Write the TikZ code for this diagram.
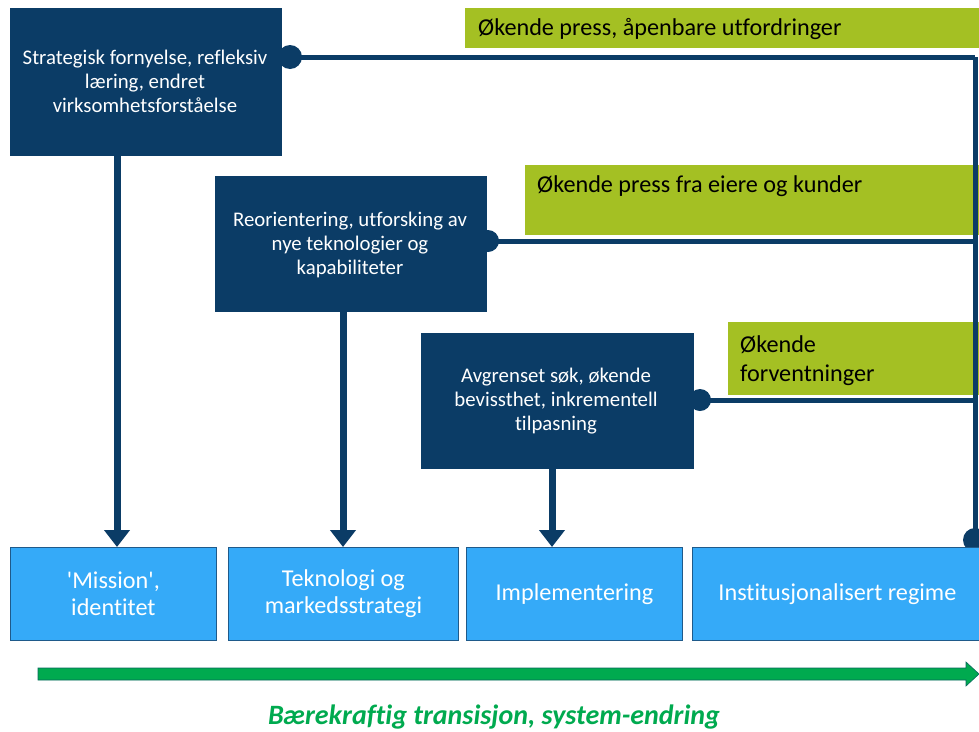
\documentclass[tikz,border=0pt]{standalone}
\usepackage{fontspec}
\setmainfont{Carlito}[Ligatures={TeX,NoCommon}]
\usetikzlibrary{arrows.meta,calc}
\definecolor{navy}{HTML}{0B3C66}
\definecolor{lime}{HTML}{A4C023}
\definecolor{sky}{HTML}{35AAF8}
\definecolor{skyedge}{HTML}{1F5A8A}
\definecolor{tgreen}{HTML}{00AA4F}
\tikzset{
  darkbox/.style={fill=navy, draw=navy, anchor=north west, inner sep=0pt},
  darktext/.style={text=white, align=center, font=\fontsize{20.8}{24}\selectfont, inner sep=0pt},
  limebox/.style={fill=lime, draw=none, anchor=north west, inner sep=0pt},
  limetext/.style={anchor=west, font=\fontsize{24.2}{29}\selectfont, align=left, inner sep=0pt},
  lightbox/.style={fill=sky, draw=skyedge, line width=0.8pt, anchor=north west, text=white, align=center, font=\fontsize{24.2}{27}\selectfont, inner sep=0pt},
  navyline/.style={draw=navy, line width=5pt},
  knob/.style={fill=navy, draw=none},
  downarrow/.style={draw=navy, line width=7pt, -{Triangle[width=25pt,length=17pt]}},
}
\begin{document}
\begin{tikzpicture}[x=1pt,y=-1pt]
\useasboundingbox (0,0) rectangle (979,731);
% lime labels
\node[limebox, minimum width=514pt, minimum height=40pt] (g1) at (465,8) {};
\node[limetext] (g1t) at (478,29) {Økende press, åpenbare utfordringer};
\node[limebox, minimum width=454pt, minimum height=70pt] (g2) at (525,165) {};
\node[limetext] (g2t) at (537,186) {Økende press fra eiere og kunder};
\node[limebox, minimum width=251pt, minimum height=73pt] (g3) at (728,322) {};
\node[limetext] (g3t) at (740,361) {Økende\\forventninger};
% coordinates for feedback lines
\coordinate (k1) at (290,57);
\coordinate (k2) at (488,241);
\coordinate (k3) at (700,400);
\coordinate (c1) at (975,57);
\coordinate (c4) at (975,540);
% feedback lines
\draw[navyline] (k1) -- (c1 |- k1);
\draw[navyline] (k2) -- (c1 |- k2);
\draw[navyline] (k3) -- (c1 |- k3);
\draw[navyline] (c1) -- (c4);
\fill[knob] (k1) circle (12pt);
\fill[knob] (k2) circle (11pt);
\fill[knob] (k3) circle (11pt);
\fill[knob] (c4) circle (12pt);
% dark boxes
\node[darkbox, minimum width=271pt, minimum height=147pt] (b1) at (10,8) {};
\node[darktext] (b1t) at (145,81) {Strategisk fornyelse, refleksiv\\læring, endret\\virksomhetsforståelse};
\node[darkbox, minimum width=271pt, minimum height=135pt] (b2) at (215,176) {};
\node[darktext] (b2t) at (350,245) {Reorientering, utforsking av\\nye teknologier og\\kapabiliteter};
\node[darkbox, minimum width=272pt, minimum height=135pt] (b3) at (421,333) {};
\node[darktext] (b3t) at (556,401) {Avgrenset søk, økende\\bevissthet, inkrementell\\tilpasning};
% bottom boxes
\node[lightbox, minimum width=206pt, minimum height=93pt] (m1) at (10,547) {\textquotesingle Mission\textquotesingle,\\identitet};
\node[lightbox, minimum width=230pt, minimum height=93pt] (m2) at (228,547) {Teknologi og\\markedsstrategi};
\node[lightbox, minimum width=216pt, minimum height=93pt] (m3) at (466,547) {Implementering};
\node[lightbox, minimum width=290pt, minimum height=93pt] (m4) at (692,547) {Institusjonalisert regime};
% down arrows
\draw[downarrow] (b1.south -| 117,0) -- (m1.north -| 117,0);
\draw[downarrow] (b2.south -| 343,0) -- (m2.north -| 343,0);
\draw[downarrow] (b3.south -| 552,0) -- (m3.north -| 552,0);
% green transition arrow
\coordinate (ta) at (38,674);
\coordinate (tb) at (979,674);
\draw[draw=navy!60!tgreen, line width=0.6pt, fill=tgreen] ($(ta)+(0,-6)$) -- (966,668) -- (966,662) -- (tb) -- (966,686) -- (966,680) -- ($(ta)+(0,6)$) -- cycle;
\node[text=tgreen, font=\fontsize{28}{32}\selectfont\bfseries\itshape] (cap) at (494,717) {Bærekraftig transisjon, system-endring};
\end{tikzpicture}
\end{document}
